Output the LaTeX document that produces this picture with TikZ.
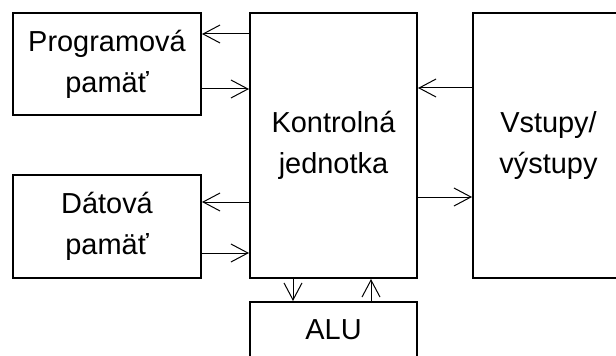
\documentclass[tikz,border=0pt]{standalone}
\usepackage{fontspec}
\setmainfont{Liberation Sans}
\usetikzlibrary{arrows.meta}

\tikzset{every picture/.style={line width=0.75pt}}
\tikzset{
	blok/.style={draw, line width=1.5pt, align=center, inner sep=0pt, font=\fontsize{21.7}{30.75}\selectfont},
	sip/.style={-{Straight Barb[length=12.75pt,width=13.5pt]}}
}

\begin{document}
\begin{tikzpicture}[x=0.75pt,y=0.75pt,yscale=-1,xscale=1]
		\useasboundingbox (0,0) rectangle (616,356);
		\clip (0,0) rectangle (616,356);

		% Bloky
		\node [blok, minimum width=141pt, minimum height=76.5pt] (prog) at (107,64) {Programová\\pamäť};
		\node [blok, minimum width=141pt, minimum height=77.25pt] (data) at (107,226.5) {Dátová\\pamäť};
		\node [blok, minimum width=125.25pt, minimum height=198.75pt] (ctrl) at (333.5,145.5) {Kontrolná\\jednotka};
		\node [blok, minimum width=113.25pt, minimum height=198.75pt] (io) at (548.5,145.5) {Vstupy/\\výstupy};
		\node [blok, minimum width=125.25pt, minimum height=42pt] (alu) at (333.5,330) {ALU};

		% Spojenia s pamäťami
		\draw [sip] (ctrl.west |- 0,34) -- (prog.east |- 0,34);
		\draw [sip] (prog.east |- 0,89) -- (ctrl.west |- 0,89);
		\draw [sip] (ctrl.west |- 0,202) -- (data.east |- 0,202);
		\draw [sip] (data.east |- 0,253) -- (ctrl.west |- 0,253);

		% Vstupy/vystupy
		\draw [sip] (io.west |- 0,88) -- (ctrl.east |- 0,88);
		\draw [sip] (ctrl.east |- 0,197) -- (io.west |- 0,197);

		% ALU
		\draw [sip] (ctrl.south -| 293,0) -- (alu.north -| 293,0);
		\draw [sip] (alu.north -| 371,0) -- (ctrl.south -| 371,0);

\end{tikzpicture}
\end{document}
